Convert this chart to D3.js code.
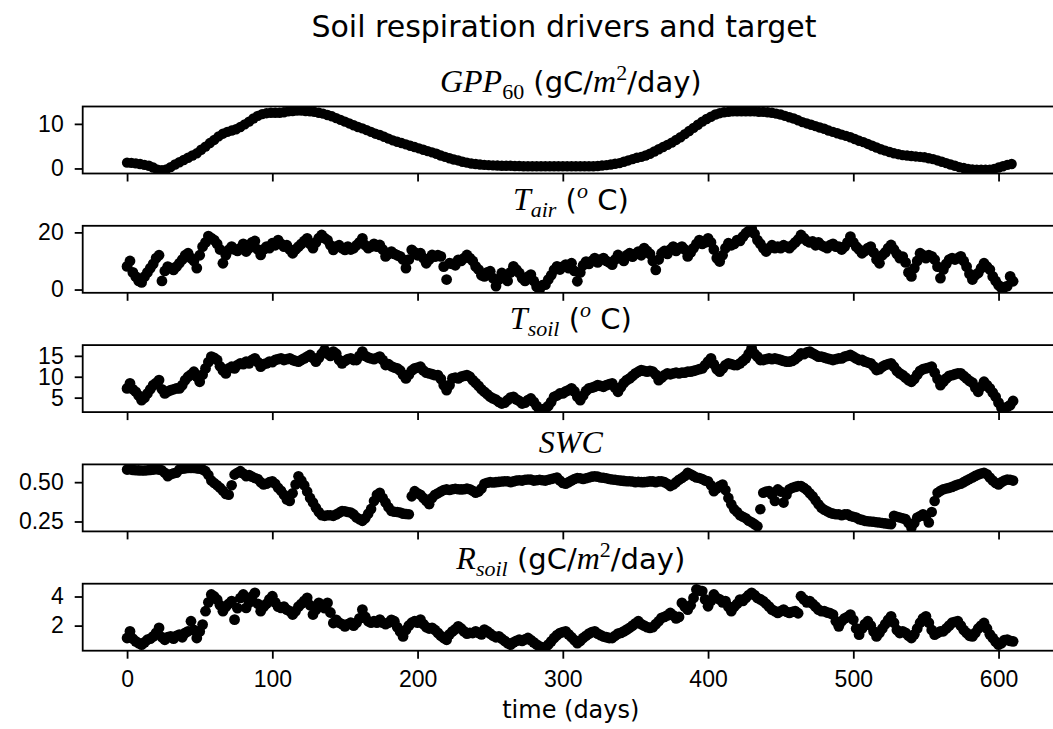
<html>
<head>
<style>
    body {
        margin: 0;
        background: #fff;
    }

    svg {
        display: block;
        font-family: 'DejaVu Sans', sans-serif;
    }

    .tick text {
        font-size: 23px;
        fill: #000;
    }

    .tick line {
        stroke: #000;
        stroke-width: 1.8px;
    }

    .mi {
        font-family: 'Liberation Serif', serif;
        font-style: italic;
    }

    .rm {
        font-family: 'Liberation Serif', serif;
    }
</style>
</head>
<body>
<svg width="1053" height="729"></svg>

<script src="https://d3js.org/d3.v7.min.js"></script>
<script>

    // GPP is smooth: read every 3 days; the noisy series every 2 days
    let gppDays = d3.range(0, 612, 3)
    let days = d3.range(0, 612, 2)
    let xTicks = [0, 100, 200, 300, 400, 500, 600]

    let gpp = [
        1.3, 1.25, 1.15, 1.0, 0.8, 0.6, 0.2, -0.3, -0.4, -0.2,
        0.3, 0.9, 1.4, 1.9, 2.4, 2.9, 3.4, 4.2, 4.9, 5.7,
        6.4, 7.2, 7.8, 8.2, 8.5, 8.8, 9.3, 9.9, 10.5, 11.2,
        11.8, 12.2, 12.4, 12.5, 12.5, 12.5, 12.6, 12.8, 12.9, 13.0,
        13.0, 12.9, 12.8, 12.7, 12.5, 12.3, 12.0, 11.7, 11.3, 10.9,
        10.5, 10.1, 9.7, 9.3, 9.0, 8.6, 8.2, 7.8, 7.5, 7.1,
        6.7, 6.3, 6.0, 5.7, 5.4, 5.1, 4.8, 4.5, 4.2, 3.9,
        3.6, 3.3, 2.9, 2.6, 2.3, 2.0, 1.8, 1.5, 1.3, 1.1,
        1.0, 0.9, 0.8, 0.75, 0.7, 0.65, 0.6, 0.6, 0.6, 0.55,
        0.55, 0.5, 0.5, 0.5, 0.5, 0.5, 0.5, 0.5, 0.5, 0.5,
        0.5, 0.5, 0.5, 0.5, 0.5, 0.5, 0.5, 0.5, 0.55, 0.65,
        0.75, 0.9, 1.05, 1.2, 1.5, 1.8, 2.1, 2.4, 2.6, 2.9,
        3.3, 3.8, 4.3, 4.8, 5.3, 5.8, 6.4, 7.0, 7.7, 8.4,
        9.1, 9.8, 10.5, 11.1, 11.6, 12.1, 12.4, 12.6, 12.7, 12.8,
        12.8, 12.8, 12.8, 12.8, 12.8, 12.7, 12.7, 12.6, 12.5, 12.3,
        12.1, 11.8, 11.5, 11.2, 10.8, 10.4, 10.1, 9.8, 9.5, 9.2,
        8.9, 8.5, 8.2, 7.9, 7.6, 7.3, 7.0, 6.6, 6.2, 5.9,
        5.5, 5.1, 4.7, 4.3, 4.0, 3.7, 3.4, 3.2, 3.0, 2.9,
        2.8, 2.7, 2.6, 2.5, 2.3, 2.1, 1.8, 1.5, 1.2, 0.9,
        0.6, 0.3, 0.1, -0.1, -0.2, -0.25, -0.3, -0.3, -0.25, -0.1,
        0.2, 0.5, 0.8, 1.0
    ]

    // one row = 30 days (15 samples)
    let tair = [
        8.1, 10.0, 6.0, 4.5, 3.0, 2.5, 4.5, 6.0, 7.5, 9.0, 11.0, 12.0, 3.0, 6.5, 8.0,
        7.5, 6.9, 8.0, 9.2, 10.5, 12.0, 12.7, 11.0, 10.0, 7.5, 12.0, 15.0, 16.5, 18.7, 18.0,
        17.3, 16.0, 14.0, 9.2, 12.0, 13.9, 15.0, 14.0, 13.5, 14.5, 16.0, 13.3, 14.5, 16.5, 17.0,
        14.0, 12.1, 14.0, 15.0, 14.5, 16.2, 15.5, 17.3, 16.0, 15.0, 15.5, 14.0, 12.7, 14.0, 15.0,
        16.0, 17.0, 17.9, 16.0, 14.5, 16.5, 18.0, 19.1, 18.0, 17.3, 15.5, 13.9, 15.0, 15.5, 14.5,
        13.9, 15.0, 14.0, 14.5, 15.5, 16.5, 17.9, 15.5, 14.5, 15.0, 16.0, 15.0, 15.6, 14.0, 11.6,
        12.5, 13.3, 12.5, 12.0, 11.6, 10.5, 7.5, 10.5, 13.9, 13.0, 12.0, 12.7, 11.0, 9.2, 10.5,
        12.1, 11.5, 12.0, 11.6, 8.0, 3.5, 9.2, 9.0, 8.5, 10.4, 10.0, 11.0, 12.1, 11.0, 10.0,
        8.1, 7.0, 5.0, 4.6, 6.0, 6.4, 4.0, 1.2, 3.5, 5.8, 4.5, 3.0, 6.0, 8.1, 7.0,
        5.8, 4.0, 3.0, 4.5, 5.2, 3.0, 1.0, 0.0, 1.5, 1.7, 3.5, 5.0, 6.9, 8.1, 7.0,
        8.0, 8.7, 7.5, 9.2, 6.5, 2.9, 6.0, 8.5, 9.8, 9.0, 10.0, 11.0, 9.5, 10.5, 11.0,
        10.0, 9.5, 8.7, 10.5, 12.1, 11.0, 10.0, 12.0, 12.7, 11.5, 12.5, 13.3, 12.0, 14.5, 13.5,
        12.5, 10.0, 6.9, 10.5, 12.7, 13.5, 12.5, 14.0, 15.0, 13.5, 14.5, 15.0, 14.0, 11.6, 13.0,
        14.5, 16.0, 17.3, 16.0, 16.5, 17.9, 16.5, 14.0, 11.0, 9.8, 12.0, 14.5, 16.2, 15.5, 16.0,
        17.3, 17.0, 18.5, 19.7, 20.5, 21.4, 19.5, 17.3, 16.0, 14.5, 13.3, 14.5, 15.5, 14.5, 15.0,
        14.5, 15.5, 15.0, 14.5, 15.5, 16.5, 17.5, 19.1, 18.0, 17.0, 16.5, 16.8, 15.5, 16.5, 15.5,
        15.0, 14.5, 15.5, 16.0, 15.0, 15.0, 14.0, 15.0, 16.5, 18.5, 16.5, 15.0, 14.0, 12.7, 13.5,
        14.5, 15.0, 13.0, 10.5, 9.2, 12.0, 13.0, 14.5, 15.6, 14.0, 12.5, 11.0, 11.5, 9.5, 6.0,
        4.6, 7.5, 10.0, 12.7, 12.0, 11.0, 12.0, 11.6, 10.5, 8.0, 4.0, 7.0, 9.0, 10.5, 11.0,
        10.5, 11.0, 11.6, 10.0, 8.0, 5.5, 3.5, 5.0, 5.8, 7.5, 9.2, 8.0, 7.0, 4.6, 3.0,
        1.5, 0.6, 0.8, 1.2, 4.6, 2.9
    ]

    let tsoil = [
        7.2, 8.4, 7.0, 6.4, 5.5, 4.4, 5.0, 6.0, 7.0, 8.0, 8.5, 9.2, 7.0, 6.0, 6.5,
        6.8, 7.0, 7.2, 7.2, 8.0, 9.2, 10.0, 10.5, 11.2, 10.0, 8.8, 10.5, 12.0, 13.5, 14.8,
        14.5, 14.0, 12.5, 11.5, 10.8, 12.0, 12.4, 12.0, 12.8, 13.2, 13.0, 13.6, 13.2, 14.0, 14.4,
        13.5, 12.4, 13.0, 13.2, 13.6, 13.5, 14.0, 14.2, 14.4, 14.0, 14.2, 14.4, 14.0, 13.8, 13.6,
        14.0, 14.4, 14.8, 15.2, 14.5, 13.6, 14.5, 15.5, 16.4, 15.5, 15.0, 16.0, 15.5, 14.0, 13.2,
        13.8, 14.2, 14.4, 14.0, 14.0, 15.0, 16.0, 15.0, 14.6, 14.4, 14.2, 14.5, 14.8, 14.0, 12.8,
        13.0, 12.5, 12.2, 12.0, 11.5, 10.5, 9.6, 10.5, 11.5, 12.0, 12.2, 12.4, 11.5, 11.0, 10.8,
        10.6, 10.4, 10.4, 9.5, 8.0, 6.8, 8.0, 9.6, 9.8, 9.6, 10.0, 10.2, 10.4, 10.0, 9.2,
        8.5, 7.8, 7.0, 6.4, 5.8, 5.2, 4.8, 4.5, 4.0, 3.6, 3.8, 4.4, 5.0, 5.2, 4.6,
        4.2, 3.6, 3.8, 4.4, 4.8, 4.0, 3.0, 2.0, 2.2, 2.4, 3.0, 4.0, 5.2, 5.5, 6.0,
        6.0, 6.5, 6.8, 7.2, 6.5, 5.2, 4.4, 5.5, 6.6, 7.2, 7.4, 7.6, 8.0, 7.8, 7.6,
        8.0, 8.2, 8.4, 7.4, 6.4, 7.5, 8.5, 9.2, 9.6, 10.2, 10.8, 11.2, 11.6, 11.4, 11.2,
        11.4, 11.2, 10.5, 9.2, 9.8, 10.4, 10.8, 10.6, 10.8, 11.0, 10.8, 11.0, 11.0, 11.2, 11.2,
        11.4, 11.6, 11.8, 12.0, 12.8, 13.6, 14.4, 13.0, 11.8, 11.2, 12.0, 12.8, 13.2, 13.0, 12.8,
        12.8, 13.2, 13.8, 14.4, 15.5, 16.8, 15.5, 14.8, 14.0, 14.0, 14.2, 14.4, 14.2, 14.4, 14.2,
        14.0, 13.8, 13.6, 13.6, 13.8, 14.2, 14.8, 15.6, 15.4, 15.8, 16.0, 15.6, 15.2, 14.8, 14.8,
        14.6, 14.4, 14.2, 14.0, 14.2, 14.4, 14.4, 14.8, 15.0, 15.2, 14.8, 14.4, 14.0, 14.0, 13.6,
        13.4, 13.2, 12.5, 11.6, 11.8, 12.4, 12.8, 13.0, 13.2, 12.4, 11.4, 10.8, 10.4, 9.8, 9.2,
        8.8, 9.5, 10.5, 11.4, 11.8, 12.0, 12.2, 12.4, 11.0, 9.5, 8.0, 8.8, 9.6, 10.2, 10.4,
        10.6, 10.8, 10.8, 10.2, 9.6, 9.0, 8.6, 7.4, 6.4, 7.6, 8.8, 8.0, 7.2, 6.2, 5.2,
        3.8, 2.6, 2.4, 2.8, 3.2, 4.2
    ]

    let swc = [
        0.58, 0.582, 0.578, 0.576, 0.575, 0.574, 0.574, 0.576, 0.578, 0.58, 0.582, 0.58, 0.575, 0.56, 0.538,
        0.55, 0.556, 0.56, 0.58, 0.585, 0.588, 0.59, 0.59, 0.59, 0.588, 0.585, 0.58, 0.57, 0.545, 0.51,
        0.495, 0.48, 0.464, 0.445, 0.425, 0.42, 0.48, 0.548, 0.56, 0.57, 0.555, 0.538, 0.545, 0.535, 0.527,
        0.52, 0.50, 0.485, 0.49, 0.50, 0.506, 0.49, 0.465, 0.445, 0.42, 0.39, 0.38, 0.43, 0.485, 0.538,
        0.51, 0.48, 0.44, 0.40, 0.37, 0.338, 0.31, 0.29, 0.286, 0.29, 0.29, 0.286, 0.295, 0.305, 0.317,
        0.315, 0.31, 0.307, 0.295, 0.275, 0.265, 0.254, 0.27, 0.30, 0.33, 0.38, 0.42, 0.433, 0.40, 0.37,
        0.34, 0.317, 0.312, 0.31, 0.307, 0.30, 0.298, 0.296, 0.41, 0.443, 0.43, 0.42, 0.40, 0.38, 0.36,
        0.40, 0.42, 0.43, 0.44, 0.45, 0.454, 0.45, 0.455, 0.458, 0.455, 0.454, 0.455, 0.46, 0.455, 0.445,
        0.433, 0.44, 0.46, 0.49, 0.496, 0.50, 0.498, 0.50, 0.502, 0.504, 0.506, 0.506, 0.50, 0.505, 0.51,
        0.512, 0.51, 0.515, 0.517, 0.517, 0.51, 0.512, 0.515, 0.512, 0.51, 0.515, 0.52, 0.525, 0.53, 0.51,
        0.495, 0.49, 0.50, 0.51, 0.52, 0.527, 0.525, 0.52, 0.525, 0.53, 0.535, 0.538, 0.535, 0.53, 0.528,
        0.525, 0.52, 0.517, 0.515, 0.512, 0.51, 0.508, 0.506, 0.506, 0.504, 0.50, 0.502, 0.50, 0.50, 0.502,
        0.505, 0.505, 0.50, 0.505, 0.506, 0.50, 0.49, 0.475, 0.485, 0.50, 0.515, 0.527, 0.54, 0.56, 0.55,
        0.54, 0.53, 0.527, 0.52, 0.51, 0.506, 0.48, 0.443, 0.46, 0.475, 0.485, 0.45, 0.40, 0.36, 0.328,
        0.31, 0.29, 0.28, 0.27, 0.255, 0.245, 0.233, 0.22, 0.328, 0.433, 0.44, 0.443, 0.42, 0.38, 0.454,
        0.44, 0.37, 0.42, 0.455, 0.464, 0.47, 0.475, 0.475, 0.465, 0.45, 0.43, 0.41, 0.385, 0.36, 0.338,
        0.325, 0.315, 0.305, 0.30, 0.296, 0.296, 0.29, 0.295, 0.296, 0.285, 0.28, 0.275, 0.265, 0.26, 0.254,
        0.252, 0.25, 0.248, 0.245, 0.244, 0.24, 0.238, 0.235, 0.233, 0.286, 0.28, 0.275, 0.27, 0.265, 0.24,
        0.212, 0.24, 0.275, 0.285, 0.296, 0.28, 0.244, 0.31, 0.38, 0.433, 0.445, 0.455, 0.46, 0.464, 0.47,
        0.478, 0.485, 0.49, 0.50, 0.51, 0.52, 0.53, 0.54, 0.548, 0.555, 0.56, 0.55, 0.53, 0.51, 0.495,
        0.485, 0.50, 0.51, 0.517, 0.515, 0.51
    ]

    let rsoil = [
        1.15, 1.6, 1.1, 0.92, 0.8, 0.69, 0.85, 1.03, 1.1, 1.26, 1.5, 1.84, 1.2, 1.03, 1.2,
        1.26, 1.1, 1.3, 1.38, 1.2, 1.5, 1.61, 2.3, 1.7, 1.15, 1.6, 2.07, 2.99, 3.6, 4.14,
        4.0, 3.79, 3.4, 2.99, 3.3, 3.5, 3.68, 2.41, 3.2, 3.9, 4.14, 3.22, 3.6, 4.0, 4.25,
        3.5, 2.99, 3.3, 3.5, 3.8, 4.02, 3.6, 3.3, 3.22, 3.3, 3.1, 3.0, 2.76, 3.0, 3.3,
        3.5, 3.7, 3.91, 3.4, 2.76, 3.1, 3.56, 3.3, 3.2, 3.56, 2.9, 2.18, 2.4, 2.2, 2.1,
        1.95, 2.1, 2.2, 2.0, 2.2, 2.5, 3.1, 2.6, 2.3, 2.2, 2.3, 2.2, 2.41, 2.2, 2.1,
        2.2, 2.4, 2.3, 1.9, 1.6, 1.26, 1.7, 2.0, 2.2, 2.3, 2.2, 2.41, 2.1, 1.9, 1.8,
        1.84, 1.7, 1.5, 1.3, 1.15, 1.03, 1.4, 1.6, 1.75, 1.95, 1.8, 1.6, 1.45, 1.5, 1.49,
        1.6, 1.5, 1.4, 1.72, 1.6, 1.45, 1.3, 1.2, 1.26, 1.1, 0.95, 0.8, 0.69, 0.85, 0.95,
        1.03, 0.95, 1.05, 1.15, 1.0, 0.85, 0.7, 0.57, 0.5, 0.46, 0.7, 0.92, 1.15, 1.35, 1.49,
        1.55, 1.61, 1.4, 1.2, 1.0, 0.8, 0.95, 1.15, 1.3, 1.45, 1.55, 1.61, 1.45, 1.35, 1.25,
        1.2, 1.15, 1.15, 1.3, 1.45, 1.5, 1.6, 1.72, 1.85, 2.0, 2.15, 2.3, 2.1, 2.0, 1.9,
        1.84, 1.9, 2.1, 2.3, 2.53, 2.6, 2.7, 2.87, 2.7, 2.5, 2.6, 3.56, 3.3, 3.1, 3.4,
        3.9, 4.48, 4.4, 4.37, 3.8, 3.33, 3.7, 4.14, 3.9, 3.8, 3.6, 3.68, 3.3, 2.99, 3.3,
        3.5, 3.79, 3.7, 3.9, 4.1, 4.25, 4.1, 3.9, 3.8, 3.68, 3.5, 3.3, 3.1, 3.0, 2.87,
        3.0, 3.1, 2.95, 2.87, 2.95, 3.0, 2.85, 4.02, 3.8, 3.6, 3.68, 3.5, 3.3, 3.1, 2.99,
        3.0, 2.9, 2.85, 2.76, 2.3, 1.95, 2.3, 2.5, 2.6, 2.76, 2.4, 1.8, 1.38, 1.8, 2.1,
        2.3, 2.0, 1.6, 1.26, 1.5, 1.8, 2.1, 2.4, 2.64, 2.2, 1.7, 1.49, 1.6, 1.5, 1.3,
        1.15, 1.4, 1.8, 2.2, 2.5, 2.64, 2.2, 1.7, 1.38, 1.5, 1.6, 1.61, 1.8, 2.0, 2.2,
        2.25, 2.3, 2.0, 1.7, 1.5, 1.3, 1.26, 1.5, 1.8, 2.0, 2.18, 1.8, 1.4, 1.15, 0.9,
        0.69, 0.8, 1.0, 1.03, 0.95, 0.92
    ]

    // y limits and ticks per panel
    let gppDomain = [-1.13, 13.9]
    let tairDomain = [-1.14, 22.3]
    let tsoilDomain = [1.54, 17.57]
    let swcDomain = [0.187, 0.613]
    let rsoilDomain = [0.276, 4.88]

    let gppTicks = [0, 10]
    let tairTicks = [0, 20]
    let tsoilTicks = [5, 10, 15]
    let swcTicks = [0.25, 0.50]
    let rsoilTicks = [2, 4]

    let svg = d3.select("svg")

    let left = 82.7
    let right = 1058.9
    let panelH = 67
    let tops = [106.5, 225.8, 345.1, 464.4, 583.7]
    let cx = (left + right) / 2

    let x = d3.scaleLinear()
        .domain([-30.55, 641.55])
        .range([left, right])

    let panels = [
        {values: gpp, days: gppDays, r: 5.2, domain: gppDomain, ticks: gppTicks, fmt: d3.format("d")},
        {values: tair, days: days, r: 5.4, domain: tairDomain, ticks: tairTicks, fmt: d3.format("d")},
        {values: tsoil, days: days, r: 5.4, domain: tsoilDomain, ticks: tsoilTicks, fmt: d3.format("d")},
        {values: swc, days: days, r: 5.3, domain: swcDomain, ticks: swcTicks, fmt: d3.format(".2f")},
        {values: rsoil, days: days, r: 5.4, domain: rsoilDomain, ticks: rsoilTicks, fmt: d3.format("d")}
    ]

    panels.forEach((p, i) => {
        let top = tops[i]
        let bottom = top + panelH

        let y = d3.scaleLinear()
            .domain(p.domain)
            .range([bottom, top])

        svg.append("clipPath")
            .attr("id", "clip" + i)
            .append("rect")
            .attr("x", left)
            .attr("y", top)
            .attr("width", right - left)
            .attr("height", panelH)

        svg.append("g")
            .attr("clip-path", `url(#clip${i})`)
            .selectAll("circle")
            .data(p.values)
            .join("circle")
            .attr("cx", (d, j) => x(p.days[j]))
            .attr("cy", d => y(d))
            .attr("r", p.r)
            .attr("fill", "#000")

        svg.append("g")
            .attr("class", "y axis")
            .attr("transform", `translate(${left}, 0)`)
            .call(d3.axisLeft(y).tickValues(p.ticks).tickFormat(p.fmt).tickSize(8).tickPadding(11))
            .call(g => g.select(".domain").remove())

        svg.append("g")
            .attr("class", "x axis")
            .attr("transform", `translate(0, ${bottom})`)
            .call(d3.axisBottom(x).tickValues(xTicks).tickSize(8).tickPadding(12)
                .tickFormat(i == 4 ? d3.format("d") : ""))
            .call(g => g.select(".domain").remove())

        svg.append("rect")
            .attr("x", left)
            .attr("y", top)
            .attr("width", right - left)
            .attr("height", panelH)
            .attr("fill", "none")
            .attr("stroke", "#000")
            .attr("stroke-width", 1.8)
    })

    // titles: mixed mathtext-like pieces
    function title(yPos, parts) {
        let t = svg.append("text")
            .attr("x", cx)
            .attr("y", yPos)
            .attr("text-anchor", "middle")
            .style("font-size", "29px")
        let shift = 0
        parts.forEach(p => {
            let s = t.append("tspan").text(p[0])
            let want = 0
            if (p[1] == "mi") {
                s.attr("class", "mi").style("font-size", "32px")
            } else if (p[1] == "sub") {
                s.attr("class", "mi").style("font-size", "22px")
                want = 7
            } else if (p[1] == "subrm") {
                s.attr("class", "rm").style("font-size", "22px")
                want = 7
            } else if (p[1] == "sup") {
                s.attr("class", "mi").style("font-size", "22px")
                want = -12
            } else if (p[1] == "suprm") {
                s.attr("class", "rm").style("font-size", "22px")
                want = -12
            }
            if (want != shift) {
                s.attr("dy", want - shift)
                shift = want
            }
        })
    }

    title(tops[0] - 15, [["GPP", "mi"], ["60", "subrm"], [" (gC/", "sans"], ["m", "mi"], ["2", "suprm"], ["/day)", "sans"]])
    title(tops[1] - 16, [["T", "mi"], ["air", "sub"], [" (", "sans"], ["o", "sup"], [" C)", "sans"]])
    title(tops[2] - 16, [["T", "mi"], ["soil", "sub"], [" (", "sans"], ["o", "sup"], [" C)", "sans"]])
    title(tops[3] - 11, [["SWC", "mi"]])
    title(tops[4] - 15, [["R", "mi"], ["soil", "sub"], [" (gC/", "sans"], ["m", "mi"], ["2", "suprm"], ["/day)", "sans"]])

    svg.append("text")
        .attr("x", 564)
        .attr("y", 36.5)
        .attr("text-anchor", "middle")
        .style("font-size", "30px")
        .text("Soil respiration drivers and target")

    svg.append("text")
        .attr("x", cx)
        .attr("y", 718)
        .attr("text-anchor", "middle")
        .style("font-size", "24px")
        .text("time (days)")

</script>
</body>
</html>
